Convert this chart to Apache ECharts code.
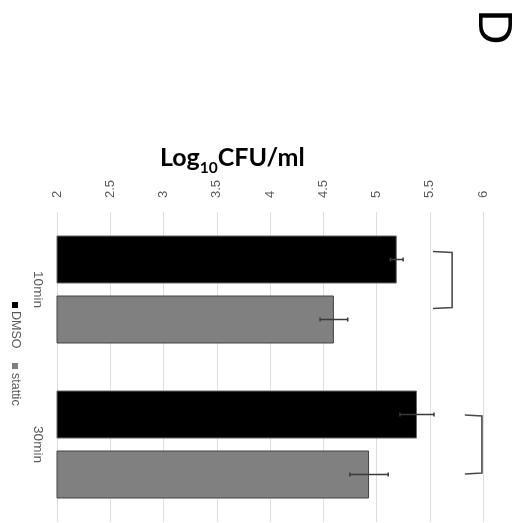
<!DOCTYPE html>
<html>
<head>
<meta charset="utf-8">
<script src="https://cdn.jsdelivr.net/npm/echarts@6/dist/echarts.min.js"></script>
<style>html,body{margin:0;padding:0;background:#fff;}#c{width:521px;height:523px;}</style>
</head>
<body>
<div id="c"></div>
<script>
const categories = ['10min', '30min'];
const seriesNames = ['DMSO', 'stattic'];
const dmsoValues = [5.19, 5.38];
const statticValues = [4.60, 4.93];
const dmsoErrors = [0.06, 0.16];
const statticErrors = [0.13, 0.18];
const axisMin = 2, axisMax = 6, axisStep = 0.5;
// significance brackets: [value start, value end, category index]
const brackets = [[5.53, 5.71, 0], [5.83, 5.99, 1]];

const chart = echarts.init(document.getElementById('c'), null, {renderer: 'canvas'});
const BAR_W = 48, GAP = 12;
const OFF = (BAR_W + GAP) / 2;
const labelColor = '#595959';
const errColor = '#3a3a3a';

function errorRender(offset) {
  return function (params, api) {
    const v = api.value(0), c = api.value(1), e = api.value(2);
    const lo = api.coord([v - e, c]);
    const hi = api.coord([v + e, c]);
    const y = lo[1] + offset;
    const st = {stroke: errColor, lineWidth: 1.5};
    return {type: 'group', children: [
      {type: 'line', shape: {x1: lo[0], y1: y, x2: hi[0], y2: y}, style: st},
      {type: 'line', shape: {x1: lo[0], y1: y - 2, x2: lo[0], y2: y + 2}, style: st},
      {type: 'line', shape: {x1: hi[0], y1: y - 2, x2: hi[0], y2: y + 2}, style: st}
    ]};
  };
}

const bracketSpan = [[-0.245, 0.123], [-0.19, 0.19]];
function bracketRender(params, api) {
  const a = api.value(0), b = api.value(1), c = api.value(2);
  const p0 = api.coord([a, c]);
  const p1 = api.coord([b, c]);
  const band = api.size([0, 1])[1];
  const sp = bracketSpan[params.dataIndex];
  const yt = p0[1] + sp[0] * band, yb = p0[1] + sp[1] * band;
  return {type: 'polyline', shape: {points: [[p0[0], yt], [p1[0], yt + 1], [p1[0], yb - 1], [p0[0], yb]]},
    style: {stroke: '#4a4a4a', lineWidth: 1.6, fill: null}};
}

const option = {
  backgroundColor: '#fff',
  animation: false,
  title: {
    text: '{a|Log}{b|10}{a|CFU/ml}',
    left: 155, top: 140,
    textStyle: {
      rich: {
        a: {fontFamily: 'Lato', fontWeight: 'bold', fontSize: 25, color: '#000', verticalAlign: 'top', lineHeight: 29},
        b: {fontFamily: 'Lato', fontWeight: 'bold', fontSize: 15.5, color: '#000', verticalAlign: 'top', lineHeight: 15, padding: [15, 0, 0, 0]}
      }
    }
  },
  grid: {left: 57, top: 212, width: 426, height: 310, containLabel: false},
  xAxis: {
    type: 'value', position: 'top', min: axisMin, max: axisMax, interval: axisStep,
    axisLine: {show: false}, axisTick: {show: false},
    axisLabel: {rotate: -90, color: labelColor, fontSize: 13, fontFamily: 'Liberation Sans', margin: 14},
    splitLine: {show: true, lineStyle: {color: '#dedede', width: 1}}
  },
  yAxis: {
    type: 'category', data: categories, inverse: true,
    axisLine: {show: false}, axisTick: {show: false},
    axisLabel: {rotate: -90, color: labelColor, fontSize: 13.5, fontFamily: 'Liberation Sans', margin: 12}
  },
  series: [
    {name: seriesNames[0], type: 'bar', data: dmsoValues, barWidth: BAR_W, barGap: (GAP / BAR_W * 100) + '%',
      itemStyle: {color: '#000000', borderColor: '#666666', borderWidth: 1}},
    {name: seriesNames[1], type: 'bar', data: statticValues, barWidth: BAR_W,
      itemStyle: {color: '#808080', borderColor: '#444444', borderWidth: 1}},
    {type: 'custom', z: 5, renderItem: errorRender(-OFF), data: dmsoValues.map((v, i) => [v, i, dmsoErrors[i]])},
    {type: 'custom', z: 5, renderItem: errorRender(OFF), data: statticValues.map((v, i) => [v, i, statticErrors[i]])},
    {type: 'custom', z: 5, renderItem: bracketRender, data: brackets}
  ],
  graphic: [
    {type: 'text', x: 493, y: 27, rotation: -Math.PI / 2,
      style: {text: 'D', font: '49px "Liberation Sans"', fill: '#000', textAlign: 'center', textVerticalAlign: 'middle'}},
    {type: 'group', x: 15, y: 302, rotation: -Math.PI / 2, children: [
      {type: 'rect', shape: {x: 0, y: -3, width: 6, height: 6}, style: {fill: '#000'}},
      {type: 'text', x: 9, y: 0, style: {text: seriesNames[0], font: '12.5px "Liberation Sans"', fill: labelColor, textVerticalAlign: 'middle'}},
      {type: 'rect', shape: {x: 61, y: -3, width: 6, height: 6}, style: {fill: '#808080'}},
      {type: 'text', x: 71, y: 0, style: {text: seriesNames[1], font: '12.5px "Liberation Sans"', fill: labelColor, textVerticalAlign: 'middle'}}
    ]}
  ]
};
chart.setOption(option);
</script>
</body>
</html>
